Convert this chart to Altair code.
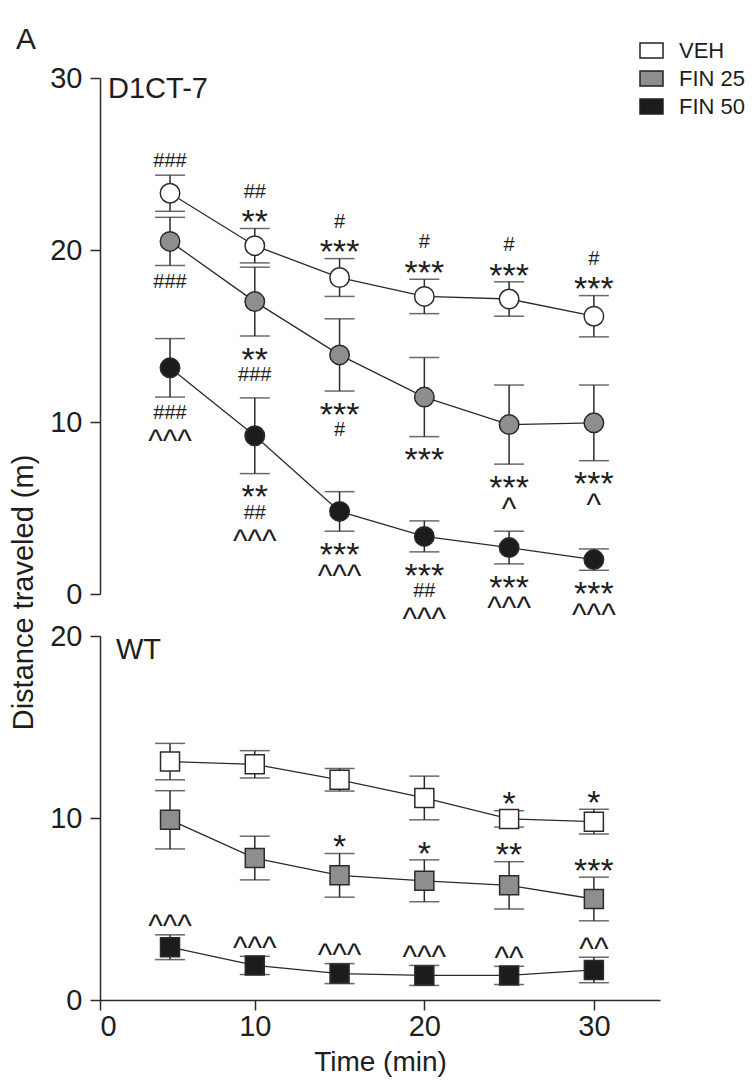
import altair as alt
import pandas as pd

FONT = "Liberation Sans, Arial, Helvetica, sans-serif"
INK = "#2b2b2b"

times = [5, 10, 15, 20, 25, 30]
groups = ["VEH", "FIN 25", "FIN 50"]
fills = ["#ffffff", "#8e8e8e", "#1c1c1c"]

# ---- D1CT-7 panel (mean, sem) ----
d1_veh = [23.3, 20.25, 18.4, 17.3, 17.15, 16.15]
d1_veh_sem = [1.05, 1.0, 1.1, 1.0, 1.0, 1.2]
d1_fin25 = [20.5, 17.0, 13.9, 11.45, 9.85, 9.95]
d1_fin25_sem = [1.4, 2.0, 2.1, 2.3, 2.3, 2.2]
d1_fin50 = [13.15, 9.2, 4.8, 3.35, 2.7, 2.0]
d1_fin50_sem = [1.7, 2.2, 1.15, 0.9, 0.95, 0.62]

# ---- WT panel (mean, sem) ----
wt_veh = [13.1, 12.95, 12.1, 11.1, 9.95, 9.8]
wt_veh_sem = [1.0, 0.75, 0.62, 1.2, 0.45, 0.68]
wt_fin25 = [9.9, 7.8, 6.85, 6.55, 6.3, 5.55]
wt_fin25_sem = [1.6, 1.2, 1.2, 1.15, 1.3, 1.2]
wt_fin50 = [2.9, 1.9, 1.45, 1.35, 1.35, 1.65]
wt_fin50_sem = [0.68, 0.5, 0.55, 0.55, 0.5, 0.7]

# ---- significance marks (nearest line first) ----
d1_veh_above = [["###"], ["**", "##"], ["***", "#"], ["***", "#"], ["***", "#"], ["***", "#"]]
d1_fin25_below = [["###"], ["**", "###"], ["***", "#"], ["***"], ["***", "^"], ["***", "^"]]
d1_fin50_below = [["###", "^^^"], ["**", "##", "^^^"], ["***", "^^^"],
                  ["***", "##", "^^^"], ["***", "^^^"], ["***", "^^^"]]
wt_veh_above = [[], [], [], [], ["*"], ["*"]]
wt_fin25_above = [[], [], ["*"], ["*"], ["**"], ["***"]]
wt_fin50_above = [["^^^"], ["^^^"], ["^^^"], ["^^^"], ["^^"], ["^^"]]

x_ticks = [0.87, 10, 20, 30]
x_domain = [0.87, 33.9]


def series(means, sems, group):
    return pd.DataFrame({
        "time": times, "mean": means,
        "lo": [m - s for m, s in zip(means, sems)],
        "hi": [m + s for m, s in zip(means, sems)],
        "group": group,
    })


def annotations(df, marks, direction):
    rows = []
    for (_, r), lines in zip(df.iterrows(), marks):
        for k, t in enumerate(lines):
            rows.append({"time": r["time"], "anchor": r["hi"] if direction == "above" else r["lo"],
                         "text": t, "line": k, "kind": t[0], "dir": direction})
    return rows


GLYPH = {"*": (34, 0.58), "#": (20, 0.36), "^": (31, 0.53)}
FIRST = 15
PITCH = 23


def panel(data, ann, ydomain, shape, size, xaxis, yaxis, label, label_dx, label_y,
          legend, height, extra=None):
    xs = alt.Scale(domain=x_domain, nice=False, zero=False)
    ys = alt.Scale(domain=ydomain, nice=False, zero=False)

    def X():
        return alt.X("time:Q", scale=xs, axis=xaxis)

    def Y(f):
        return alt.Y(f"{f}:Q", scale=ys, axis=yaxis)

    base = alt.Chart(data)
    rule = base.mark_rule(color=INK, strokeWidth=1.5).encode(x=X(), y=Y("lo"), y2="hi:Q")
    cap_hi = base.mark_tick(orient="horizontal", size=30, thickness=1.5, color=INK).encode(x=X(), y=Y("hi"))
    cap_lo = base.mark_tick(orient="horizontal", size=30, thickness=1.5, color=INK).encode(x=X(), y=Y("lo"))
    line = base.mark_line(color=INK, strokeWidth=1.3).encode(x=X(), y=Y("mean"), detail="group:N")
    pts = base.mark_point(shape=shape, size=size, filled=True, stroke=INK, strokeWidth=1.5,
                          opacity=1).encode(
        x=X(), y=Y("mean"),
        fill=alt.Fill("group:N", scale=alt.Scale(domain=groups, range=fills), legend=legend))
    layers = [rule, cap_hi, cap_lo, line, pts]

    adf = pd.DataFrame(ann)
    for (direction, k, kind), sub in adf.groupby(["dir", "line", "kind"]):
        fs, c = GLYPH[kind]
        off = FIRST + PITCH * k
        dy = (-off if direction == "above" else off) + c * fs
        layers.append(alt.Chart(sub).mark_text(font=FONT, fontSize=fs, baseline="alphabetic",
                                               dy=dy, color="#1e1e1e").encode(
            x=X(), y=Y("anchor"), text="text:N"))

    lab = alt.Chart(pd.DataFrame({"label": [label]})).mark_text(
        font=FONT, fontSize=29, align="left", baseline="alphabetic", color="#1e1e1e").encode(
        x=alt.value(label_dx), y=alt.value(label_y), text="label:N")
    layers.append(lab)
    if extra is not None:
        layers.append(extra)
    return alt.layer(*layers).properties(width=560, height=height)


axis_common = dict(domainColor=INK, tickColor=INK, domainWidth=1.5, tickWidth=1.5, tickSize=10,
                   labelFont=FONT, labelFontSize=29, labelColor="#1e1e1e", grid=False)

top_yaxis = alt.Axis(values=[0, 10, 20, 30], labelPadding=8, title="Distance traveled (m)",
                     titleFont=FONT, titleFontSize=29, titleFontWeight="normal", titleColor="#1e1e1e",
                     titleX=-68, titleY=514, titleAngle=-90, titleAlign="center",
                     titleBaseline="alphabetic", **axis_common)
bot_yaxis = alt.Axis(values=[0, 10, 20], labelPadding=8, title=None, **axis_common)
bot_xaxis = alt.Axis(values=x_ticks, labelExpr="datum.value < 5 ? '0' : datum.label",
                     labelPadding=2, title="Time (min)", titleFont=FONT, titleFontSize=28,
                     titleFontWeight="normal", titleColor="#1e1e1e", titleY=70,
                     titleBaseline="alphabetic", **axis_common)

legend = alt.Legend(title=None, orient="none", legendX=539, legendY=-40,
                    symbolType="M-1,-0.65L1,-0.65L1,0.65L-1,0.65Z", symbolSize=529,
                    symbolStrokeColor="#222", symbolStrokeWidth=1.5, symbolOpacity=1,
                    labelFont=FONT, labelFontSize=22, labelColor="#1e1e1e", labelOffset=15,
                    rowPadding=4, padding=0)

d1 = pd.concat([series(d1_veh, d1_veh_sem, "VEH"), series(d1_fin25, d1_fin25_sem, "FIN 25"),
                series(d1_fin50, d1_fin50_sem, "FIN 50")], ignore_index=True)
d1_ann = (annotations(d1[d1.group == "VEH"], d1_veh_above, "above")
          + annotations(d1[d1.group == "FIN 25"], d1_fin25_below, "below")
          + annotations(d1[d1.group == "FIN 50"], d1_fin50_below, "below"))

wt = pd.concat([series(wt_veh, wt_veh_sem, "VEH"), series(wt_fin25, wt_fin25_sem, "FIN 25"),
                series(wt_fin50, wt_fin50_sem, "FIN 50")], ignore_index=True)
wt_ann = (annotations(wt[wt.group == "VEH"], wt_veh_above, "above")
          + annotations(wt[wt.group == "FIN 25"], wt_fin25_above, "above")
          + annotations(wt[wt.group == "FIN 50"], wt_fin50_above, "above"))

panel_a = alt.Chart(pd.DataFrame({"t": ["A"]})).mark_text(
    font=FONT, fontSize=30, align="left", baseline="alphabetic", color="#1e1e1e").encode(
    x=alt.value(-84), y=alt.value(-29), text="t:N")

top = panel(d1, d1_ann, [0, 30], "circle", 380, None, top_yaxis,
            "D1CT-7", 8, 20, legend, 516, extra=panel_a)
bottom = panel(wt, wt_ann, [0, 20], "square", 361, bot_xaxis, bot_yaxis,
               "WT", 16, 23, None, 364)

chart = alt.vconcat(top, bottom, spacing=42, bounds="flush").resolve_scale(
    fill="independent").properties(
    background="white",
    padding={"left": 1, "top": 17, "right": 0, "bottom": 4}
).configure_view(stroke=None, strokeWidth=0)

chart.save("out.html", embed_options={"renderer": "svg", "actions": False})
